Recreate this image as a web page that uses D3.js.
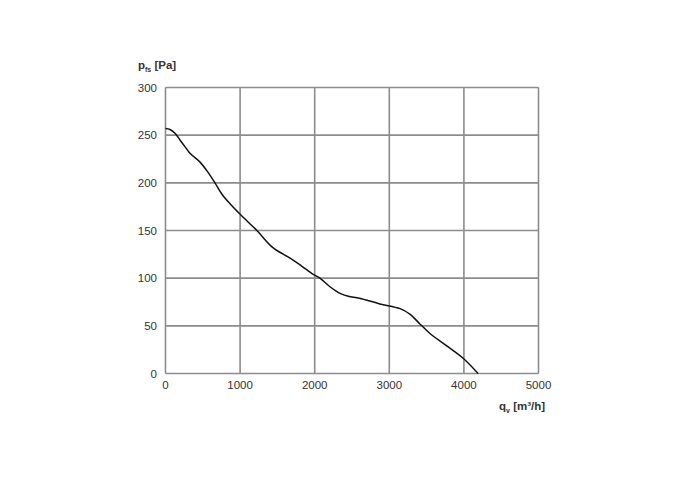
<!DOCTYPE html>
<html>
<head>
<meta charset="utf-8">
<script src="https://cdn.jsdelivr.net/npm/d3@7"></script>
<style>
	body{margin:0;background:#fff;}
	svg text{font-family:"Liberation Sans",Arial,sans-serif;fill:#333;}
</style>
</head>
<body>
<div id="chart"></div>
<script>
// air flow q_v [m3/h]
const flow=[0,60,127,194,260,328,460,570,663,757,865,1000,1225,1440,1670,1820,1980,2070,2205,2340,2450,2600,2875,3145,3280,3410,3545,3770,3990,4190];
// static pressure p_fs [Pa]
const pressure=[257,256,252,245,238,231,222,211,200,188,178,167,150,132,121,113,104,100,91,84,81,79,73,68,62,52,42,29,16,0];
const xTicks=[0,1000,2000,3000,4000,5000];
const yTicks=[0,50,100,150,200,250,300];

const w=700, h=477;
const svg=d3.select("#chart").append("svg").attr("width",w).attr("height",h);

const xScale=d3.scaleLinear().domain([0,5000]).range([165.5,538.5]);
const yScale=d3.scaleLinear().domain([0,300]).range([373.5,87.5]);

//grid
svg.append("g").selectAll("line").data(xTicks).enter().append("line")
	.attr("x1",d=>xScale(d)).attr("x2",d=>xScale(d))
	.attr("y1",yScale(0)).attr("y2",yScale(300))
	.attr("stroke","#8c8c8c").attr("stroke-width",1.6);
svg.append("g").selectAll("line").data(yTicks).enter().append("line")
	.attr("x1",xScale(0)).attr("x2",xScale(5000))
	.attr("y1",d=>yScale(d)).attr("y2",d=>yScale(d))
	.attr("stroke","#8c8c8c").attr("stroke-width",1.6);

//tick labels
svg.append("g").selectAll("text").data(xTicks).enter().append("text")
	.attr("x",d=>xScale(d)).attr("y",389)
	.attr("text-anchor","middle").style("font-size","11.5px")
	.text(d=>d);
svg.append("g").selectAll("text").data(yTicks).enter().append("text")
	.attr("x",157).attr("y",d=>yScale(d)+4)
	.attr("text-anchor","end").style("font-size","11.5px")
	.text(d=>d);

//axis titles
const yt=svg.append("text").attr("x",138).attr("y",69).style("font-size","11.5px").style("font-weight","bold");
yt.append("tspan").text("p");
yt.append("tspan").attr("dy",3).style("font-size","7px").text("fs");
yt.append("tspan").attr("dy",-3).text(" [Pa]");
const xt=svg.append("text").attr("x",499).attr("y",410).style("font-size","11.5px").style("font-weight","bold");
xt.append("tspan").text("q");
xt.append("tspan").attr("dy",3).style("font-size","7px").text("v");
xt.append("tspan").attr("dy",-3).text(" [m³/h]");

//curve
const line=d3.line().x((d,i)=>xScale(flow[i])).y(d=>yScale(d)).curve(d3.curveCatmullRom);
svg.append("path").datum(pressure)
	.attr("d",line).attr("fill","none")
	.attr("stroke","#111").attr("stroke-width",1.5);
</script>
</body>
</html>
